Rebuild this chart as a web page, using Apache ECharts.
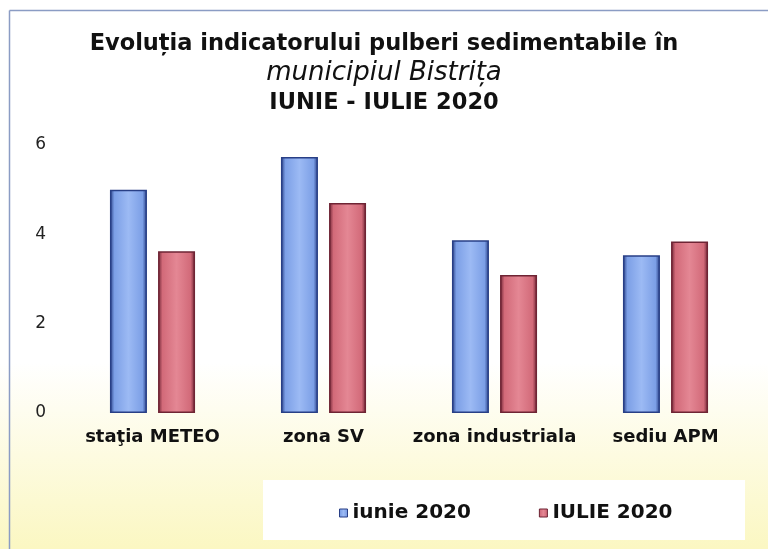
<!DOCTYPE html>
<html>
<head>
<meta charset="utf-8">
<script src="https://cdn.jsdelivr.net/npm/echarts@6/dist/echarts.min.js"></script>
<style>html,body{margin:0;padding:0;background:#fff}#c{width:768px;height:549px}</style>
</head>
<body>
<div id="c"></div>
<script>
const categories = ['staţia METEO', 'zona SV', 'zona industriala', 'sediu APM'];
const seriesNames = ['iunie 2020', 'IULIE 2020'];
const iunie = [5.0, 5.73, 3.87, 3.53];
const iulie = [3.62, 4.7, 3.09, 3.84];
const yTicks = [0, 2, 4, 6];
const titleLines = ['Evoluția indicatorului pulberi sedimentabile în', 'municipiul Bistrița', 'IUNIE - IULIE 2020'];

const FONT = 'DejaVu Sans';
const chart = echarts.init(document.getElementById('c'));

function barStyle(light, mid, dark) {
  return {
    color: new echarts.graphic.LinearGradient(0, 0, 1, 0, [
      {offset: 0, color: dark},
      {offset: 0.12, color: mid},
      {offset: 0.5, color: light},
      {offset: 0.88, color: mid},
      {offset: 1, color: dark}
    ]),
    borderColor: dark,
    borderWidth: 1.5
  };
}

chart.setOption({
  backgroundColor: new echarts.graphic.LinearGradient(0, 0, 0, 1, [
    {offset: 0, color: '#ffffff'},
    {offset: 0.66, color: '#ffffff'},
    {offset: 1, color: '#fbf7c2'}
  ]),
  graphic: [
    {type: 'line', shape: {x1: 9.5, y1: 10.5, x2: 768, y2: 10.5}, style: {stroke: '#8b9cc4', lineWidth: 1.5}, silent: true},
    {type: 'line', shape: {x1: 9.5, y1: 10.5, x2: 9.5, y2: 549}, style: {stroke: '#8b9cc4', lineWidth: 1.5}, silent: true},
    {type: 'rect', shape: {x: 263, y: 480, width: 482, height: 60}, style: {fill: '#ffffff'}, z: -1, silent: true}
  ],
  title: [
    {text: titleLines[0], left: 'center', top: 28, textStyle: {fontFamily: FONT, fontSize: 22.5, fontWeight: 'bold', color: '#111'}},
    {text: titleLines[1], left: 'center', top: 55, textStyle: {fontFamily: FONT, fontSize: 26, fontWeight: 'normal', fontStyle: 'italic', color: '#111'}},
    {text: titleLines[2], left: 'center', top: 87, textStyle: {fontFamily: FONT, fontSize: 22.5, fontWeight: 'bold', color: '#111'}}
  ],
  legend: {
    data: [
      {name: seriesNames[0]},
      {name: seriesNames[1]}
    ],
    left: 334,
    top: 498,
    itemWidth: 8,
    itemHeight: 8,
    itemGap: 68,
    icon: 'rect',
    itemStyle: {borderWidth: 1},
    textStyle: {fontFamily: FONT, fontSize: 20, fontWeight: 'bold', color: '#111'}
  },
  grid: {left: 67, right: 17, top: 145, bottom: 136, containLabel: false},
  xAxis: {
    type: 'category',
    data: categories,
    axisLine: {show: false},
    axisTick: {show: false},
    axisLabel: {fontFamily: FONT, fontSize: 18, fontWeight: 'bold', color: '#111', margin: 15, interval: 0}
  },
  yAxis: {
    type: 'value',
    min: yTicks[0],
    max: yTicks[yTicks.length - 1],
    interval: yTicks[1] - yTicks[0],
    axisLine: {show: false},
    axisTick: {show: false},
    splitLine: {show: false},
    axisLabel: {fontFamily: FONT, fontSize: 17, color: '#222', margin: 21}
  },
  series: [
    {name: seriesNames[0], type: 'bar', data: iunie, barWidth: 37, barGap: '30%',
      itemStyle: barStyle('#9cbaf4', '#7c9fe6', '#283f86')},
    {name: seriesNames[1], type: 'bar', data: iulie, barWidth: 37, barGap: '30%',
      itemStyle: barStyle('#e48794', '#d26a79', '#6e2434')}
  ]
});
</script>
</body>
</html>
